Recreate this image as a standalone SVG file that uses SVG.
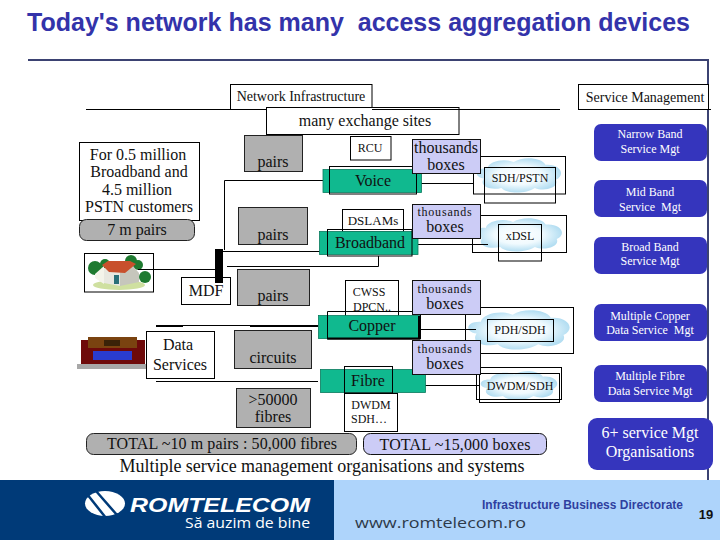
<svg xmlns="http://www.w3.org/2000/svg" width="720" height="540" viewBox="0 0 720 540">
<style>
text{font-family:"Liberation Serif","Times New Roman",serif;fill:#111;text-anchor:middle}
.t12{font-size:12px}.t13{font-size:13px}.t14{font-size:14px}.t16{font-size:16px}.t18{font-size:18px}
.w{fill:#fff;stroke:#000;stroke-width:1}
.o{fill:none;stroke:#000;stroke-width:1}
.g{fill:#b0b0b0;stroke:#222;stroke-width:1}
.gr{fill:#10b98f;stroke:#0a7a5e;stroke-width:.8}
.l{fill:#ccccf6;stroke:#111;stroke-width:1}
.b{fill:#3535bd}
.b text{fill:#fff}
.c{stroke:#000;stroke-width:1;fill:none}
.k{stroke:#000;stroke-width:2;fill:none}
</style>
<defs>
<radialGradient id="cg"><stop offset="0" stop-color="#fff"/><stop offset=".55" stop-color="#f0fafe"/><stop offset="1" stop-color="#b4def2"/></radialGradient>
<path id="cloud" fill="url(#cg)" d="M10 30C-2 28 0 14 14 15C16 4 34 0 44 6C54 -3 76 -1 80 10C96 8 104 24 92 32C96 44 78 50 68 44C58 53 36 53 30 44C18 48 4 42 10 30Z"/>
</defs>
<rect width="720" height="540" fill="#fff"/>
<text id="title" x="27" y="31" textLength="663" lengthAdjust="spacingAndGlyphs" style="font-family:'Liberation Sans',Arial,sans-serif;font-weight:700;font-size:25px;fill:#3333aa;text-anchor:start" xml:space="preserve">Today's network has many  access aggregation devices</text>
<path d="M28 60H708V480" fill="none" stroke="#3b4272" stroke-width="2"/>

<g id="clouds">
<use href="#cloud" transform="translate(475 158) scale(.88 .68)"/>
<use href="#cloud" transform="translate(473 218) scale(.91 .66)"/>
<use href="#cloud" transform="translate(466 310) scale(1.06 .78)"/>
<use href="#cloud" transform="translate(479 371) scale(.8 .57)"/>
</g>

<g id="cloud-frames">
<rect class="o" x="473.500" y="156.500" width="92" height="37.500"/>
<rect class="o" x="484.500" y="167.500" width="71" height="35.500"/>
<rect class="o" x="472.500" y="215.500" width="94" height="37"/>
<rect class="o" x="498.500" y="224.500" width="43" height="36.500"/>
<rect class="o" x="465.500" y="307.500" width="108" height="46"/>
<rect class="o" x="487.500" y="319.500" width="66" height="22"/>
<rect class="o" x="476.500" y="367.500" width="85" height="32"/>
<rect class="o" x="479.500" y="373.500" width="80" height="29"/>
</g>

<g id="net-infra"><rect class="w" x="230.500" y="84.500" width="141.500" height="25"/><text class="t14" x="301" y="101">Network Infrastructure</text></g>
<g id="svc-mgmt"><rect class="w" x="578.500" y="84.500" width="130" height="25"/><text class="t14" x="645" y="102">Service Management</text></g>
<g id="exchange"><rect class="w" x="266.500" y="107.500" width="192.500" height="27"/><text class="t16" x="365" y="126">many exchange sites</text></g>

<g id="customers"><rect class="w" x="79.500" y="142.500" width="120" height="78"/>
<text class="t16" x="138" y="160">For 0.5 million</text><text class="t16" x="139" y="177">Broadband and</text><text class="t16" x="137" y="195">4.5 million</text><text class="t16" x="139" y="212">PSTN customers</text></g>
<g id="m7"><rect class="g" x="79.500" y="219.500" width="115" height="21" rx="7" stroke-width="1.500"/><text class="t16" x="137" y="235">7 m pairs</text></g>

<g id="pairs1"><rect class="g" x="244.500" y="135.500" width="58" height="36"/><text class="t16" x="273" y="167">pairs</text></g>
<g id="pairs2"><rect class="g" x="238.500" y="207.500" width="69" height="37"/><text class="t16" x="273" y="240">pairs</text></g>
<g id="pairs3"><rect class="g" x="237.500" y="269.500" width="72" height="36"/><text class="t16" x="273" y="301">pairs</text></g>
<g id="circuits"><rect class="g" x="234.500" y="330.500" width="77" height="38"/><text class="t16" x="273" y="363">circuits</text></g>
<g id="fibres"><rect class="g" x="236.500" y="388.500" width="74" height="39"/><text class="t16" x="273" y="405">&gt;50000</text><text class="t16" x="273" y="422">fibres</text></g>

<g id="house"><rect class="w" x="84.500" y="253.500" width="69" height="38.500"/>
<ellipse cx="119" cy="285" rx="26" ry="5" fill="#cfe0a0"/>
<circle cx="95" cy="268" r="7" fill="#1e7a30"/><circle cx="105" cy="264" r="5" fill="#1e7a30"/><circle cx="131" cy="261" r="6" fill="#1e7a30"/><circle cx="145" cy="277" r="6" fill="#1e7a30"/><circle cx="138" cy="265" r="5" fill="#1e7a30"/>
<path d="M95 274L104 266V284L95 278Z" fill="#f4f4ea"/><path d="M104 268H120V286L104 283Z" fill="#e8e8e0"/><path d="M120 272L132 265L139 273V282L120 286Z" fill="#c6c6bc"/>
<path d="M102 265L108 261H130L136 264L125 273L109 272Z" fill="#c8502c"/>
<rect x="114" y="275" width="5" height="9" fill="#2a7078"/>
</g>
<g id="mdf"><rect class="w" x="181.500" y="277.500" width="49" height="27"/><text class="t16" x="206" y="296">MDF</text></g>

<g id="equipment"><rect x="77" y="364" width="70" height="5" fill="#a8a8a8"/><rect x="81" y="340" width="64" height="24" fill="#6e0a0a"/><rect x="88" y="337" width="49" height="11" fill="#7a4310"/><rect x="104" y="340" width="16" height="6" fill="#3a2208"/><rect x="93" y="351" width="39" height="9" fill="#2a3ccf"/></g>
<g id="data"><rect class="w" x="146.500" y="331.500" width="68" height="47"/><text class="t16" x="178" y="350">Data</text><text class="t16" x="180" y="370">Services</text></g>

<g id="connectors">
<path class="c" d="M86 109.500H230M372 109.500H560M578 109.500H711"/>
<path class="c" d="M224.500 250V180.500H323M223 251.500H320M227 266.500H378.500V256M138 269.500H215"/>
<path class="c" d="M156 325.500H318M156 381.500H318"/>
<path class="k" d="M156 326H183M250 326H318"/>
<path class="c" d="M421 183.500H473M418 244.500H488M420 329.500H476M422 385.500H480M465.500 314V340"/>
<rect x="215" y="249" width="8" height="34" fill="#000"/>
</g>

<g id="rcu"><rect class="w" x="350.500" y="136.500" width="40.500" height="23.500"/><text class="t12" x="370" y="152">RCU</text></g>
<g id="voice"><rect class="gr" x="323" y="169.500" width="98.500" height="23"/><rect class="o" x="329.500" y="166.500" width="87" height="27.500"/><text class="t16" x="373" y="186">Voice</text></g>
<g id="dslams"><rect class="w" x="342.500" y="209.500" width="61" height="22.500"/><text class="t13" x="373" y="225">DSLAMs</text></g>
<g id="broadband"><rect class="gr" x="319.500" y="231.500" width="98.500" height="23"/><rect class="o" x="327.500" y="229.500" width="84.500" height="26.500"/><text class="t16" x="370" y="248">Broadband</text></g>
<g id="cwss"><rect class="w" x="345.500" y="280.500" width="53" height="36.500"/><text class="t12" x="369" y="296">CWSS</text><text class="t12" x="372" y="311">DPCN..</text></g>
<g id="copper"><rect class="gr" x="318.500" y="315.500" width="101.500" height="23"/><path class="o" d="M327.500 338.500V311.500H420.500V339H327.500"/><path class="k" d="M327 338.500H419V316"/><text class="t16" x="372" y="331">Copper</text></g>
<g id="fibre"><rect class="gr" x="320.500" y="369.500" width="105" height="23"/><rect class="o" x="344.500" y="366.500" width="48" height="27.500"/><path class="k" d="M344.500 393.500H392.500"/><text class="t16" x="368" y="386">Fibre</text></g>
<g id="dwdm"><rect class="w" x="344.500" y="393.500" width="53" height="38"/><text class="t12" x="371" y="409">DWDM</text><text class="t12" x="369" y="423">SDH…</text></g>

<g id="th1"><rect class="l" x="412.500" y="139.500" width="68" height="34"/><text class="t16" x="446" y="153">thousands</text><text class="t16" x="446" y="170">boxes</text></g>
<g id="th2"><rect class="l" x="412.500" y="204.500" width="68" height="34"/><text class="t12" x="445" y="216" letter-spacing=".8">thousands</text><text class="t16" x="445" y="232">boxes</text></g>
<g id="th3"><rect class="l" x="412.500" y="280.500" width="68" height="34"/><text class="t12" x="445" y="293" letter-spacing=".8">thousands</text><text class="t16" x="445" y="309">boxes</text></g>
<g id="th4"><rect class="l" x="412.500" y="340.500" width="68" height="34"/><text class="t12" x="445" y="353" letter-spacing=".8">thousands</text><text class="t16" x="445" y="369">boxes</text></g>

<text class="t12" x="520" y="182">SDH/PSTN</text>
<text class="t12" x="520" y="240">xDSL</text>
<text class="t12" x="520" y="334">PDH/SDH</text>
<text class="t12" x="520" y="390">DWDM/SDH</text>

<g id="total-left"><rect class="g" x="86.500" y="433.500" width="270" height="21" rx="7" stroke-width="1.500"/><text class="t16" x="222" y="449" textLength="230">TOTAL ~10 m pairs : 50,000 fibres</text></g>
<g id="total-right"><rect class="l" x="363.500" y="433.500" width="183" height="21" rx="7" stroke-width="1.500"/><text class="t16" x="455" y="450" textLength="151">TOTAL ~15,000 boxes</text></g>
<text id="multi" class="t18" x="322" y="472" textLength="405">Multiple service management organisations and systems</text>

<g id="s1" class="b"><rect x="594" y="124" width="113" height="37" rx="7"/><text class="t12" x="650" y="138">Narrow Band</text><text class="t12" x="650" y="153">Service Mgt</text></g>
<g id="s2" class="b"><rect x="594" y="180" width="113" height="37" rx="7"/><text class="t12" x="650" y="196">Mid Band</text><text class="t12" x="650" y="211" xml:space="preserve">Service  Mgt</text></g>
<g id="s3" class="b"><rect x="594" y="237" width="113" height="37" rx="7"/><text class="t12" x="650" y="251">Broad Band</text><text class="t12" x="650" y="265">Service Mgt</text></g>
<g id="s4" class="b"><rect x="594" y="304" width="113" height="37" rx="7"/><text class="t12" x="650" y="320">Multiple Copper</text><text class="t12" x="650" y="334" xml:space="preserve">Data Service  Mgt</text></g>
<g id="s5" class="b"><rect x="594" y="365" width="113" height="37" rx="7"/><text class="t12" x="650" y="380">Multiple Fibre</text><text class="t12" x="650" y="395">Data Service Mgt</text></g>
<g id="s6" class="b"><rect x="588" y="418" width="125" height="52" rx="9"/><text class="t16" x="650" y="438">6+ service Mgt</text><text class="t16" x="650" y="457">Organisations</text></g>

<g id="footer">
<rect x="0" y="480" width="334" height="60" fill="#003a78"/>
<rect x="334" y="480" width="386" height="60" fill="#aed4fb"/>
<ellipse cx="105" cy="503.500" rx="20" ry="12.500" fill="#fff"/>
<path d="M87 494L106 518M96 491L117 515" stroke="#003a78" stroke-width="2.500" fill="none"/>
<text x="130" y="511.500" textLength="180" lengthAdjust="spacingAndGlyphs" style="font-family:'Liberation Sans',Arial,sans-serif;font-weight:700;font-style:italic;font-size:21px;fill:#fff;text-anchor:start">ROMTELECOM</text>
<text x="185" y="528" textLength="125" lengthAdjust="spacingAndGlyphs" style="font-family:'Open Sans',sans-serif;font-size:14px;fill:#fff;text-anchor:start">Să auzim de bine</text>
<text x="355" y="528" textLength="171" lengthAdjust="spacingAndGlyphs" style="font-family:'Open Sans',sans-serif;font-size:15px;fill:#2d3a4a;text-anchor:start">www.romtelecom.ro</text>
<text x="482" y="509" textLength="201" lengthAdjust="spacingAndGlyphs" style="font-family:'Liberation Sans',Arial,sans-serif;font-weight:700;font-size:13px;fill:#2f3fa0;text-anchor:start">Infrastructure Business Directorate</text>
<text x="706" y="519" style="font-family:'Liberation Sans',Arial,sans-serif;font-weight:700;font-size:13px;fill:#111">19</text>
</g>
</svg>
